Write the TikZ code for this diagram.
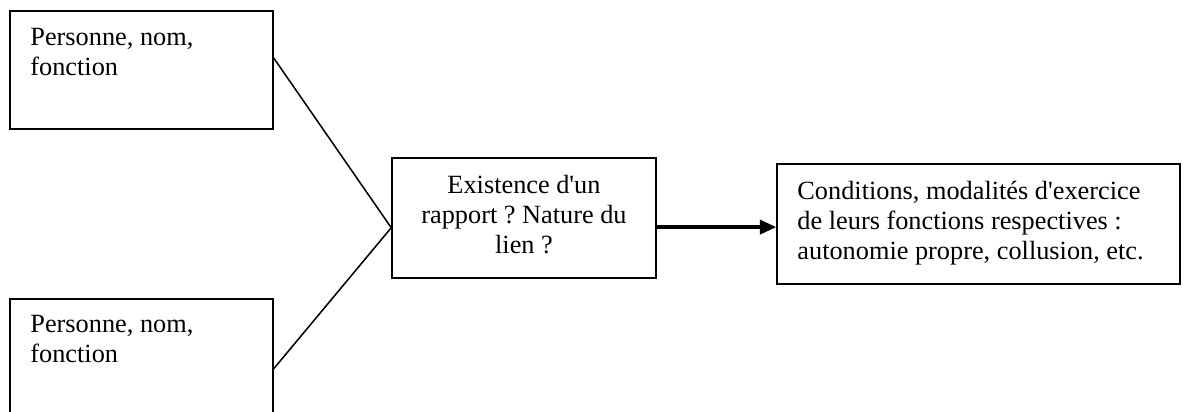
\documentclass[tikz,border=0pt]{standalone}
\usepackage{fontspec}
\setmainfont{Liberation Serif}[Ligatures=TeXOff]
\usepackage{tikz}
\usetikzlibrary{arrows.meta,fit,calc}
\frenchspacing

\begin{document}
\begin{tikzpicture}[
  x=0.46pt, y=-0.46pt,
  box/.style={draw, line width=0.7pt, inner sep=0pt},
  txt/.style={inner sep=0pt, font=\fontsize{12.1}{13.8}\selectfont},
  link/.style={line width=0.7pt},
  arr/.style={-{Triangle[length=7.5pt,width=6.5pt]}, line width=1.5pt}
]
\useasboundingbox (0,0) rectangle (1184,412);

% persons
\node[box, fit={(10,11) (273,129)}] (pers1) {};
\node[txt, anchor=north west, align=left] (txt1) at (30,28) {Personne, nom,\\fonction};
\node[box, fit={(10,299) (273,419)}] (pers2) {};
\node[txt, anchor=north west, align=left] (txt2) at (30,315) {Personne, nom,\\fonction};

% relation
\node[box, fit={(392,158) (656,278)}] (rel) {};
\node[txt, anchor=north, align=center] (txtrel) at (524,175) {Existence d'un\\rapport ? Nature du\\lien ?};

% conditions
\node[box, fit={(777,164) (1180,284)}] (cond) {};
\node[txt, anchor=north west, align=left] (txtcond) at (797,181) {Conditions, modalités d'exercice\\de leurs fonctions respectives :\\autonomie propre, collusion, etc.};

\coordinate (join) at ($(rel.north west)!0.58!(rel.south west)$);
\draw[link] ($(pers1.north east)!0.4!(pers1.south east)$) -- (join);
\draw[link] ($(pers2.north east)!0.58!(pers2.south east)$) -- (join);

\coordinate (out) at ($(rel.north east)!0.575!(rel.south east)$);
\draw[arr] (out) -- (out -| cond.west);

\end{tikzpicture}
\end{document}
